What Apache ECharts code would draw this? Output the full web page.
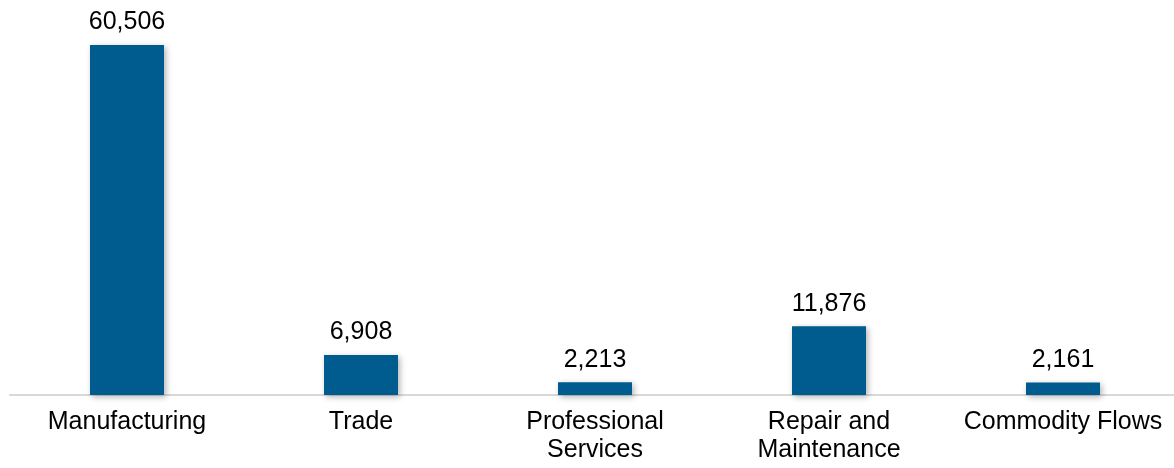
<!DOCTYPE html>
<html>
<head>
	<meta charset="UTF-8">
	<title></title>
	<style>
		html, body { margin: 0; padding: 0; background: #fff; }
		#chart { width: 1174px; height: 468px; }
	</style>
	<script src="https://cdn.jsdelivr.net/npm/echarts@6/dist/echarts.min.js"></script>
</head>
<body>
	<div id="chart"></div>
	<script>
		var categories = ['Manufacturing', 'Trade', 'Professional\nServices', 'Repair and\nMaintenance', 'Commodity Flows'];
		var values = [60506, 6908, 2213, 11876, 2161];

		var myChart = echarts.init(document.getElementById('chart'));
		myChart.setOption({
			animation: false,
			textStyle: { fontFamily: 'Liberation Sans, Arial, sans-serif' },
			grid: { left: 10, width: 1170, top: 45, bottom: 73, outerBoundsMode: 'none' },
			xAxis: {
				type: 'category',
				data: categories,
				axisLine: { lineStyle: { color: '#d9d9d9', width: 2 } },
				axisTick: { show: false },
				axisLabel: { color: '#000', fontSize: 25, lineHeight: 28, margin: 13, interval: 0 }
			},
			yAxis: {
				type: 'value',
				min: 0,
				max: 60506,
				show: false,
				splitLine: { show: false }
			},
			series: [{
				type: 'bar',
				data: values,
				barWidth: 74,
				itemStyle: {
					color: '#005b8f',
					shadowBlur: 6,
					shadowColor: 'rgba(0,0,0,0.3)',
					shadowOffsetX: 2,
					shadowOffsetY: 2
				},
				label: {
					show: true,
					position: 'top',
					distance: 10,
					color: '#000',
					fontSize: 25,
					formatter: function (p) { return p.value.toLocaleString('en-US'); }
				}
			}]
		});
	</script>
</body>
</html>
